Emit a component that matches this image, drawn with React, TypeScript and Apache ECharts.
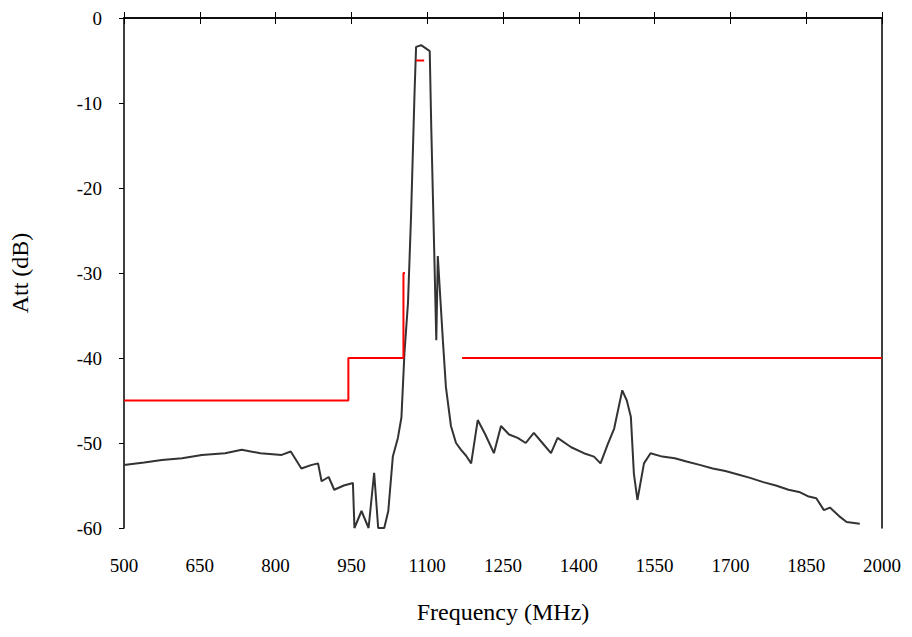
import React, { useEffect, useRef } from "react";
import * as echarts from "echarts";

const freq = [500, 540, 575, 615, 654, 700, 733, 770, 812, 830, 851, 870, 884, 891, 905, 916, 935, 953, 956, 970, 984, 995, 1003, 1015, 1023, 1032, 1042, 1049, 1055, 1062, 1068, 1075, 1078, 1088, 1098, 1105, 1108, 1114, 1118, 1121, 1126, 1131, 1137, 1147, 1157, 1167, 1177, 1187, 1200, 1215, 1232, 1246, 1262, 1279, 1295, 1311, 1328, 1345, 1358, 1385, 1410, 1430, 1443, 1457, 1470, 1486, 1495, 1503, 1509, 1516, 1529, 1542, 1565, 1590, 1615, 1641, 1665, 1690, 1715, 1739, 1765, 1790, 1815, 1838, 1855, 1870, 1885, 1897, 1915, 1930, 1956];
const att = [-52.6, -52.3, -52.0, -51.8, -51.4, -51.2, -50.8, -51.2, -51.4, -51.0, -53.0, -52.6, -52.4, -54.5, -54.0, -55.5, -55.0, -54.7, -60, -58, -60, -53.5, -60, -60, -58, -51.6, -49.4, -47, -39.4, -33.5, -23.4, -8.7, -3.4, -3.2, -3.6, -3.9, -12.8, -27.7, -37.9, -28, -33, -37.9, -43.4, -48, -50, -50.8, -51.5, -52.4, -47.3, -49, -51.2, -48, -49, -49.4, -50, -48.8, -50, -51.2, -49.4, -50.5, -51.2, -51.6, -52.4, -50.2, -48.3, -43.8, -45, -46.9, -53.6, -56.7, -52.4, -51.2, -51.6, -51.8, -52.2, -52.6, -53.0, -53.3, -53.7, -54.1, -54.6, -55.0, -55.5, -55.8, -56.3, -56.5, -57.9, -57.6, -58.6, -59.3, -59.5];
const maskLeftF = [500, 944, 944, 1053, 1053, 1056];
const maskLeftA = [-45, -45, -40, -40, -30, -30];
const maskTopF = [1078, 1094];
const maskTopA = [-5, -5];
const maskRightF = [1169, 2000];
const maskRightA = [-40, -40];

const zip = (f: number[], a: number[]) => f.map((v, i) => [v, a[i]]);

export default function App() {
  const ref = useRef<HTMLDivElement>(null);
  useEffect(() => {
    const chart = echarts.init(ref.current!, null, { renderer: "svg" });
    const font = "Liberation Serif";
    const axisLine = { show: true, lineStyle: { color: "#000", width: 1.5 } };
    chart.setOption({
      animation: false,
      backgroundColor: "#fff",
      grid: { left: 122, right: 30, top: 18, bottom: 109 },
      xAxis: [
        {
          type: "value", min: 500, max: 2000, interval: 150,
          name: "Frequency (MHz)", nameLocation: "middle", nameGap: 72,
          nameTextStyle: { fontFamily: font, fontSize: 24, color: "#000" },
          axisLine, axisTick: { inside: true, length: 6, lineStyle: { color: "#000" } },
          axisLabel: { fontFamily: font, fontSize: 19, color: "#000", margin: 28, formatter: (v: number) => String(v) },
          splitLine: { show: false },
        },
        {
          type: "value", position: "top", min: 500, max: 2000, interval: 150,
          axisLine, axisTick: { inside: true, length: 6, lineStyle: { color: "#000" } },
          axisLabel: { show: false }, splitLine: { show: false },
        },
      ],
      yAxis: [
        {
          type: "value", min: -60, max: 0, interval: 10,
          name: "Att (dB)", nameLocation: "middle", nameGap: 92, nameRotate: 90,
          nameTextStyle: { fontFamily: font, fontSize: 24, color: "#000" },
          axisLine, axisTick: { inside: false, length: 5, lineStyle: { color: "#000" } },
          axisLabel: { fontFamily: font, fontSize: 19, color: "#000", margin: 22 },
          splitLine: { show: false },
        },
        {
          type: "value", position: "right", min: -60, max: 0, interval: 10,
          axisLine, axisTick: { show: false }, axisLabel: { show: false }, splitLine: { show: false },
        },
      ],
      series: [
        { type: "line", data: zip(freq, att), symbol: "none", lineStyle: { color: "#333", width: 2 } },
        { type: "line", data: zip(maskLeftF, maskLeftA), symbol: "none", lineStyle: { color: "#ff0000", width: 2 } },
        { type: "line", data: zip(maskTopF, maskTopA), symbol: "none", lineStyle: { color: "#ff0000", width: 2 } },
        { type: "line", data: zip(maskRightF, maskRightA), symbol: "none", lineStyle: { color: "#ff0000", width: 2 } },
      ],
    });
    return () => chart.dispose();
  }, []);
  return <div ref={ref} style={{ position: "fixed", left: 0, top: 0, width: 912, height: 637 }} />;
}
